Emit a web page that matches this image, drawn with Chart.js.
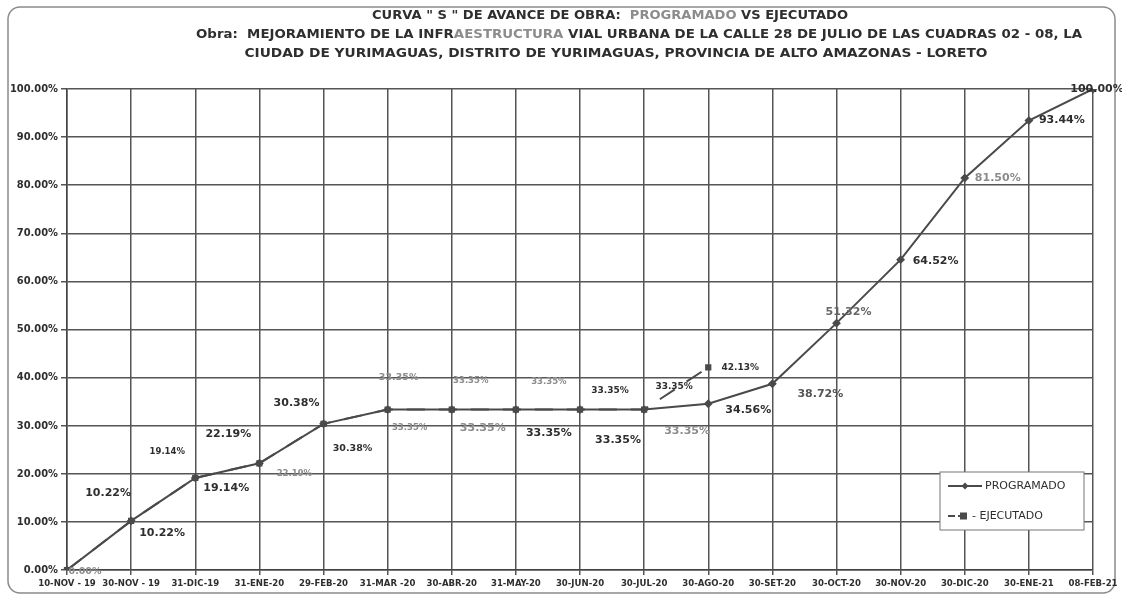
<!DOCTYPE html>
<html>
<head>
<meta charset="utf-8">
<script src="https://cdn.jsdelivr.net/npm/chart.js@4.4.1/dist/chart.umd.min.js"></script>
<style>
  html, body { margin: 0; padding: 0; background: #fff; }
  #wrap { width: 1122px; height: 594px; position: relative; }
</style>
</head>
<body>
<div id="wrap"><canvas id="curvaS" width="1122" height="594"></canvas></div>
<script>
// fechas de corte
const categories = ['10-NOV - 19', '30-NOV - 19', '31-DIC-19', '31-ENE-20', '29-FEB-20', '31-MAR -20',
    '30-ABR-20', '31-MAY-20', '30-JUN-20', '30-JUL-20', '30-AGO-20', '30-SET-20', '30-OCT-20',
    '30-NOV-20', '30-DIC-20', '30-ENE-21', '08-FEB-21'];

// avance acumulado (%)
const programado = [0.00, 10.22, 19.14, 22.19, 30.38, 33.35, 33.35, 33.35, 33.35, 33.35, 34.56, 38.72,
    51.32, 64.52, 81.50, 93.44, 100.00];
const ejecutado = [0.00, 10.22, 19.14, 22.19, 30.38, 33.35, 33.35, 33.35, 33.35, 33.35, 42.13,
    null, null, null, null, null, null];

const yTicks = [0, 10, 20, 30, 40, 50, 60, 70, 80, 90, 100];

const DARK = '#2e2e2e';
const GRAY = '#8c8c8c';
const LINE = '#4a4a4a';

// where each value label sits relative to its point: [index, dx, dy, color, size]
const labelSpots = [
    [ // programado
        [1, 31, 12, DARK, 11], [2, 31, 10, DARK, 11], [3, -31, -29, DARK, 11], [4, 29, 25, DARK, 9.5],
        [5, 22, 18, GRAY, 8.5], [6, 31, 19, GRAY, 11], [7, 33, 24, DARK, 11], [8, 38, 31, DARK, 11],
        [9, 30, -23, DARK, 9], [10, 40, 6, DARK, 11], [11, 48, 10, '#555', 11], [12, 12, -11, '#666', 11],
        [13, 35, 1, DARK, 11], [14, 33, 0, GRAY, 11], [15, 33, 0, DARK, 11], [16, 4, 0, DARK, 11]
    ],
    [ // ejecutado
        [0, 18, 2, GRAY, 9.5], [1, -23, -28, DARK, 11], [2, -28, -26, DARK, 8.5], [3, 35, 11, GRAY, 8.5],
        [4, -27, -21, DARK, 11], [5, 11, -32, GRAY, 9.5], [6, 19, -29, GRAY, 8.5], [7, 33, -28, GRAY, 8.5],
        [8, 30, -19, DARK, 9], [9, 43, 22, GRAY, 11], [10, 32, 0, DARK, 9]
    ]
];

const titleLines = [
    { cx: 610, y: 16, w: 476, parts: [['CURVA " S " DE AVANCE DE OBRA:  ', DARK], ['PROGRAMADO', GRAY], [' VS EJECUTADO', DARK]] },
    { cx: 639, y: 35, w: 886, parts: [['Obra:  MEJORAMIENTO DE LA INFR', DARK], ['AESTRUCTURA', GRAY], [' VIAL URBANA DE LA CALLE 28 DE JULIO DE LAS CUADRAS 02 - 08, LA', DARK]] },
    { cx: 616, y: 54, w: 743, parts: [['CIUDAD DE YURIMAGUAS, DISTRITO DE YURIMAGUAS, PROVINCIA DE ALTO AMAZONAS - LORETO', DARK]] }
];

const framePlugin = {
    id: 'frame',
    beforeDraw(chart) {
        const ctx = chart.ctx;
        ctx.save();
        ctx.fillStyle = '#fff';
        ctx.fillRect(0, 0, chart.width, chart.height);
        ctx.strokeStyle = '#8a8a8a';
        ctx.lineWidth = 1.5;
        ctx.beginPath();
        ctx.roundRect(8, 7, 1107, 586, 12);
        ctx.stroke();
        ctx.restore();
    },
    afterDraw(chart) {
        const ctx = chart.ctx;
        ctx.save();
        ctx.textBaseline = 'middle';
        ctx.font = 'bold 12px "DejaVu Sans"';
        titleLines.forEach(line => {
            const full = line.parts.map(p => p[0]).join('');
            const sx = line.w / ctx.measureText(full).width;
            ctx.save();
            ctx.translate(line.cx - line.w / 2, line.y);
            ctx.scale(sx, 1);
            let x = 0;
            line.parts.forEach(([txt, col]) => {
                ctx.fillStyle = col;
                ctx.textAlign = 'left';
                ctx.fillText(txt, x, 0);
                x += ctx.measureText(txt).width;
            });
            ctx.restore();
        });

        // leyenda
        const bx = 940, by = 472, bw = 144, bh = 58;
        ctx.fillStyle = '#fff';
        ctx.fillRect(bx, by, bw, bh);
        ctx.strokeStyle = '#777';
        ctx.lineWidth = 1;
        ctx.strokeRect(bx, by, bw, bh);
        ctx.strokeStyle = LINE;
        ctx.lineWidth = 2;
        ctx.beginPath();
        ctx.moveTo(948, 486); ctx.lineTo(982, 486);
        ctx.stroke();
        ctx.fillStyle = LINE;
        ctx.beginPath();
        ctx.moveTo(965, 482.5); ctx.lineTo(968.5, 486); ctx.lineTo(965, 489.5); ctx.lineTo(961.5, 486);
        ctx.closePath(); ctx.fill();
        ctx.setLineDash([7, 3]);
        ctx.beginPath();
        ctx.moveTo(948, 516); ctx.lineTo(966, 516);
        ctx.stroke();
        ctx.setLineDash([]);
        ctx.fillRect(960, 512.5, 7, 7);
        ctx.fillStyle = DARK;
        ctx.font = '11px "DejaVu Sans"';
        ctx.textAlign = 'left';
        ctx.fillText('PROGRAMADO', 985, 486);
        ctx.fillText('- EJECUTADO', 972, 516);
        ctx.restore();
    },
    afterDatasetsDraw(chart) {
        const ctx = chart.ctx;
        ctx.save();
        ctx.textAlign = 'center';
        ctx.textBaseline = 'middle';
        labelSpots.forEach((spots, di) => {
            const meta = chart.getDatasetMeta(di);
            const values = chart.data.datasets[di].data;
            spots.forEach(([i, dx, dy, col, size]) => {
                const pt = meta.data[i];
                if (!pt || values[i] === null) return;
                ctx.font = 'bold ' + size + 'px "DejaVu Sans"';
                ctx.fillStyle = col;
                ctx.fillText(values[i].toFixed(2) + '%', pt.x + dx, pt.y + dy);
            });
        });
        ctx.restore();
    }
};

const ctx = document.getElementById('curvaS').getContext('2d');
new Chart(ctx, {
    type: 'line',
    data: {
        labels: categories,
        datasets: [{
            label: 'PROGRAMADO',
            data: programado,
            borderColor: LINE,
            backgroundColor: LINE,
            borderWidth: 2,
            pointStyle: 'rectRot',
            pointRadius: 3,
            tension: 0,
        }, {
            label: 'EJECUTADO',
            data: ejecutado,
            borderColor: LINE,
            backgroundColor: LINE,
            borderWidth: 2,
            borderDash: [18, 14],
            pointStyle: 'rect',
            pointRadius: 3,
            tension: 0,
            spanGaps: false,
        }]
    },
    options: {
        responsive: false,
        animation: false,
        layout: { padding: { left: 0, top: 89, right: 29, bottom: 0 } },
        plugins: {
            legend: { display: false },
            title: { display: false },
            tooltip: { enabled: false }
        },
        scales: {
            x: {
                offset: false,
                grid: { color: '#555', lineWidth: 1.5, tickLength: 5 },
                border: { color: '#444', width: 1.5 },
                ticks: {
                    color: DARK,
                    font: { family: 'DejaVu Sans Condensed', size: 9.5, weight: 'bold' },
                    maxRotation: 0,
                    autoSkip: false,
                    padding: 3
                },
                afterFit(scale) { scale.height = 24; }
            },
            y: {
                min: 0,
                max: 100,
                afterBuildTicks(scale) { scale.ticks = yTicks.map(v => ({ value: v })); },
                grid: { color: '#555', lineWidth: 1.5, tickLength: 6 },
                border: { color: '#444', width: 1.5 },
                ticks: {
                    color: DARK,
                    font: { family: 'DejaVu Sans Condensed', size: 11, weight: 'bold' },
                    padding: 3,
                    callback: v => v.toFixed(2) + '%'
                },
                afterFit(scale) { scale.width = 67; }
            }
        }
    },
    plugins: [framePlugin]
});
</script>
</body>
</html>
